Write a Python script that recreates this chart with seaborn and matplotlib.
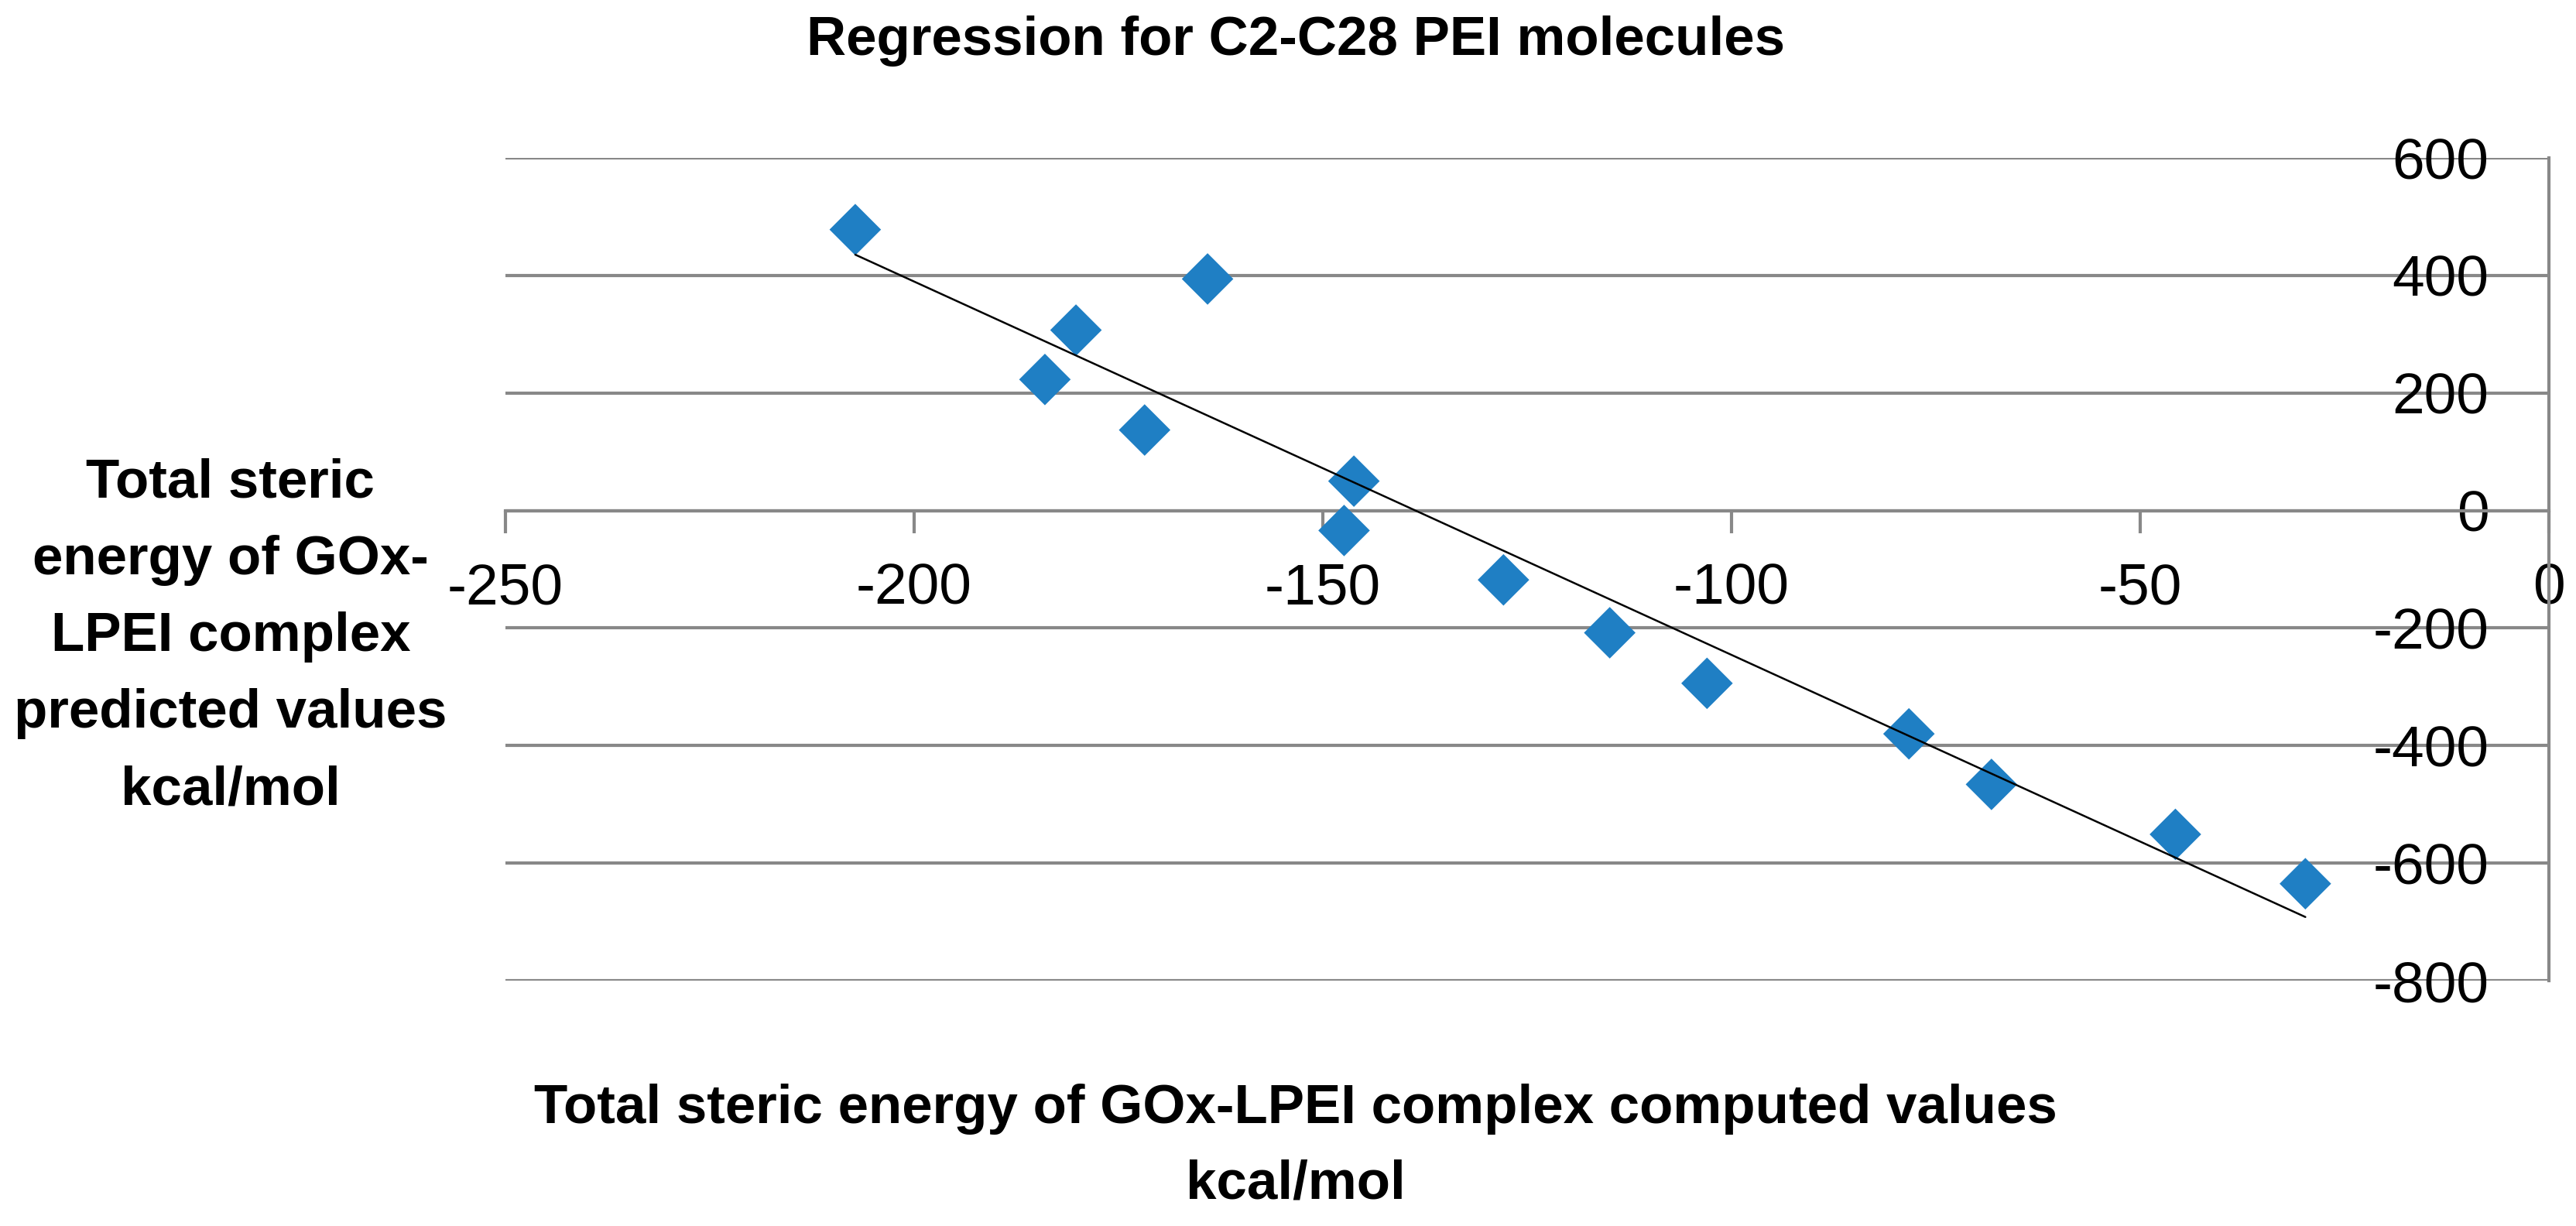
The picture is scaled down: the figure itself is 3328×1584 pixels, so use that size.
import numpy as np
import pandas as pd
import matplotlib
matplotlib.use("Agg")
import matplotlib.pyplot as plt
import seaborn as sns

# ---------------------------------------------------------------------------
# DATA
# ---------------------------------------------------------------------------
computed = [-207.2, -164.1, -180.2, -184.0, -171.8, -146.2, -147.4,
            -127.9, -114.9, -103.0, -78.3, -68.2, -45.7, -29.8]
predicted = [478, 394, 307, 223, 137, 50, -34,
             -118, -208, -294, -380, -466, -551, -635]
x_ticks = [-250, -200, -150, -100, -50, 0]
y_ticks = [-800, -600, -400, -200, 0, 200, 400, 600]

TITLE = "Regression for C2-C28 PEI molecules"
XLABEL = "Total steric energy of GOx-LPEI complex computed values\nkcal/mol"
YLABEL = "Total steric\nenergy of GOx-\nLPEI complex\npredicted values\nkcal/mol"

df = pd.DataFrame({"computed": computed, "predicted": predicted})

# ---------------------------------------------------------------------------
# STYLE
# ---------------------------------------------------------------------------
sns.set_theme(style="white")
plt.rcParams["font.family"] = ["Liberation Sans", "DejaVu Sans"]
plt.rcParams["text.color"] = "black"

GRID = "#888888"
BLUE = "#1F7FC4"

fig = plt.figure(figsize=(33.28, 15.84), dpi=100)
ax = fig.add_axes([0.1962, 0.2001, 0.7933, 0.6711])

# trend line (least squares, drawn over the data range only)
sns.regplot(data=df, x="computed", y="predicted", scatter=False, ci=None,
            truncate=True, color="black", line_kws={"linewidth": 1.8, "zorder": 4}, ax=ax)
sns.scatterplot(data=df, x="computed", y="predicted", marker="D", s=1150,
                color=BLUE, edgecolor="none", zorder=3, ax=ax)

ax.set_xlim(-250, 0)
ax.set_ylim(-800, 600)
ax.set_xticks(x_ticks)
ax.set_yticks(y_ticks)
ax.set_xticklabels([str(v) for v in x_ticks])
ax.set_yticklabels([str(v) for v in y_ticks])
ax.set_xlabel("")
ax.set_ylabel("")

# horizontal gridlines only
ax.yaxis.grid(True, color=GRID, linewidth=3.0)
ax.xaxis.grid(False)
ax.set_axisbelow(True)

# Excel style axes: x axis crossing at y=0, y axis at x=0 (right edge)
ax.spines["top"].set_visible(False)
ax.spines["right"].set_visible(False)
ax.spines["bottom"].set_position(("data", 0))
ax.spines["bottom"].set_color(GRID)
ax.spines["bottom"].set_linewidth(3.0)
ax.spines["left"].set_position(("data", 0))
ax.spines["left"].set_color(GRID)
ax.spines["left"].set_linewidth(3.0)

ax.tick_params(axis="x", direction="out", length=21, width=3.0, color=GRID,
               pad=27, labelsize=54, labelcolor="black", bottom=True)
ax.tick_params(axis="y", length=0, pad=56, labelsize=54, labelcolor="black", left=True)

# texts
fig.text(0.503, 0.9665, TITLE, ha="center", va="center", fontsize=51,
         fontweight="bold", color="black")
fig.text(0.503, 0.0644, XLABEL, ha="center", va="center", fontsize=51,
         fontweight="bold", linespacing=1.62, color="black")
fig.text(0.0895, 0.4804, YLABEL, ha="center", va="center", fontsize=51,
         fontweight="bold", linespacing=1.65, color="black")

plt.savefig("out.png", dpi=100)
plt.close()
